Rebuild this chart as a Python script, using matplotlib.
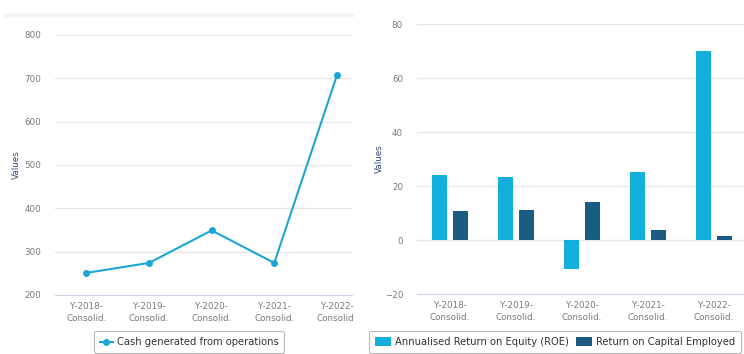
import numpy as np
import matplotlib
matplotlib.use("Agg")
import matplotlib.pyplot as plt
from matplotlib.lines import Line2D
from matplotlib.patches import Rectangle

W, H = 744, 354

years = ["Y-2018-\nConsolid.", "Y-2019-\nConsolid.", "Y-2020-\nConsolid.",
         "Y-2021-\nConsolid.", "Y-2022-\nConsolid."]
cash_ops = [251, 274, 349, 274, 707]
roe = [24.0, 23.4, -10.9, 25.2, 70.0]
roce = [10.6, 11.1, 14.2, 3.6, 1.5]

LINE_BLUE = "#1aa6d6"
ROE_BLUE = "#12afdc"
ROCE_BLUE = "#1b5c83"
GRID = "#e6e6e6"
TICK_TXT = "#7a7a7a"
LABEL_TXT = "#2e4d7b"

plt.rcParams["font.family"] = ["DejaVu Sans"]

fig = plt.figure(figsize=(W / 100, H / 100), dpi=100)


def px_axes(x0, x1, ytop, ybot):
    return fig.add_axes([x0 / W, 1 - ybot / H, (x1 - x0) / W, (ybot - ytop) / H])


def style(ax):
    for s in ["top", "right", "left"]:
        ax.spines[s].set_visible(False)
    ax.spines["bottom"].set_color("#ccd6eb")
    ax.spines["bottom"].set_linewidth(0.8)
    ax.grid(axis="y", color=GRID, linewidth=0.9)
    ax.set_axisbelow(True)
    ax.tick_params(axis="y", length=0, labelsize=6.3, labelcolor=TICK_TXT, pad=10)
    ax.tick_params(axis="x", length=0, labelsize=6.3, labelcolor=TICK_TXT, pad=5)
    ax.set_ylabel("Values", fontsize=6.3, color=LABEL_TXT)


def style_legend(leg):
    leg.get_frame().set_edgecolor("#a8a8a8")
    leg.get_frame().set_linewidth(0.8)
    for t in leg.get_texts():
        t.set_color("#333333")


# faint card edge above the line chart
fig.add_artist(Line2D([5 / W, 352 / W], [1 - 15 / H] * 2, color="#f0f4f8", lw=2.5))

# --- cash from operations (line) ---
x = np.arange(len(years))
ax1 = px_axes(55, 352, 35, 295)
style(ax1)
ax1.plot(x, cash_ops, color=LINE_BLUE, lw=1.5, marker="o", ms=4,
         label="Cash generated from operations")
ax1.set_ylim(200, 800)
ax1.set_yticks(range(200, 801, 100))
ax1.set_xlim(-0.5, 4.24)
ax1.set_xticks(x)
ax1.set_xticklabels(years, linespacing=1.5)
ax1.yaxis.set_label_coords(-0.115, 0.5)
leg1 = ax1.legend(loc="upper center", bbox_to_anchor=(189 / W, 1 - 331 / H),
                  bbox_transform=fig.transFigure, fontsize=7.2, frameon=True,
                  handlelength=1.3, handletextpad=0.4, borderpad=0.6,
                  borderaxespad=0, fancybox=True)
style_legend(leg1)

# the line chart is cut off on its right side
fig.add_artist(Rectangle((354 / W, 0.05), 13 / W, 0.3, transform=fig.transFigure,
                         facecolor="white", edgecolor="none", zorder=10))

# --- ROE / ROCE (bars) ---
ax2 = px_axes(417, 747, 24, 294)
style(ax2)
bw = 0.23
ax2.bar(x - 0.155, roe, width=bw, color=ROE_BLUE,
        label="Annualised Return on Equity (ROE)")
ax2.bar(x + 0.155, roce, width=bw, color=ROCE_BLUE,
        label="Return on Capital Employed")
ax2.axhline(0, color="#d8d8d8", lw=0.8, zorder=0)
ax2.set_ylim(-20, 80)
ax2.set_yticks(range(-20, 81, 20))
ax2.set_xlim(-0.5, 4.5)
ax2.set_xticks(x)
ax2.set_xticklabels(years, linespacing=1.5)
ax2.yaxis.set_label_coords(-0.1, 0.5)
leg2 = ax2.legend(loc="upper left", bbox_to_anchor=(369 / W, 1 - 331 / H),
                  bbox_transform=fig.transFigure, fontsize=7.2, ncol=2,
                  frameon=True, handlelength=1.6, handleheight=1.0,
                  handletextpad=0.4, columnspacing=0.7, borderpad=0.6,
                  borderaxespad=0, fancybox=True)
style_legend(leg2)

fig.savefig("out.png", dpi=100)
